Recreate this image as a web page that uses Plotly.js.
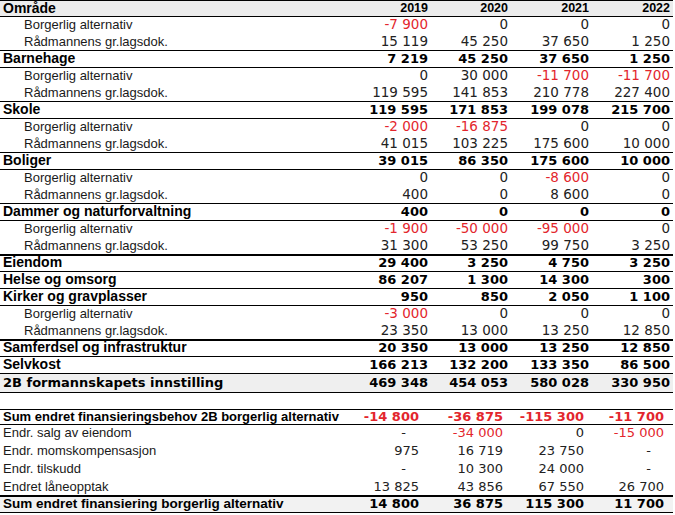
<!DOCTYPE html>
<html>
<head>
<meta charset="utf-8">
<script src="https://cdn.plot.ly/plotly-3.0.1.min.js"></script>
<style>html,body{margin:0;padding:0;background:#fff;}#chart{width:675px;height:515px;}</style>
</head>
<body>
<div id="chart"></div>
<script>
// ---------- DATA ----------
const headerLabel = "Område";
const years = ["2019", "2020", "2021", "2022"];
const rowLabels = [
  "Borgerlig alternativ", "Rådmannens gr.lagsdok.", "Barnehage",
  "Borgerlig alternativ", "Rådmannens gr.lagsdok.", "Skole",
  "Borgerlig alternativ", "Rådmannens gr.lagsdok.", "Boliger",
  "Borgerlig alternativ", "Rådmannens gr.lagsdok.", "Dammer og naturforvaltning",
  "Borgerlig alternativ", "Rådmannens gr.lagsdok.",
  "Eiendom", "Helse og omsorg", "Kirker og gravplasser",
  "Borgerlig alternativ", "Rådmannens gr.lagsdok.",
  "Samferdsel og infrastruktur", "Selvkost", "2B formannskapets innstilling",
  "",
  "Sum endret finansieringsbehov 2B borgerlig alternativ",
  "Endr. salg av eiendom", "Endr. momskompensasjon", "Endr. tilskudd", "Endret låneopptak",
  "Sum endret finansiering borgerlig alternativ"
];
const rowKinds = [
  "sub", "sub", "group",
  "sub", "sub", "group",
  "sub", "sub", "group",
  "sub", "sub", "group",
  "sub", "sub",
  "group", "group", "group",
  "sub", "sub",
  "group", "group", "total",
  "blank",
  "sumred", "plain", "plain", "plain", "plain", "sum"
];
// null = "-" (no value); blank row is skipped
const v2019 = [-7900, 15119, 7219, 0, 119595, 119595, -2000, 41015, 39015, 0, 400, 400, -1900, 31300, 29400, 86207, 950, -3000, 23350, 20350, 166213, 469348, null, -14800, null, 975, null, 13825, 14800];
const v2020 = [0, 45250, 45250, 30000, 141853, 171853, -16875, 103225, 86350, 0, 0, 0, -50000, 53250, 3250, 1300, 850, 0, 13000, 13000, 132200, 454053, null, -36875, -34000, 16719, 10300, 43856, 36875];
const v2021 = [0, 37650, 37650, -11700, 210778, 199078, 0, 175600, 175600, -8600, 8600, 0, -95000, 99750, 4750, 14300, 2050, 0, 13250, 13250, 133350, 580028, null, -115300, 0, 23750, 24000, 67550, 115300];
const v2022 = [0, 1250, 1250, -11700, 227400, 215700, 0, 10000, 10000, 0, 0, 0, 0, 3250, 3250, 300, 1100, 0, 12850, 12850, 86500, 330950, null, -11700, -15000, null, null, 26700, 11700];
const seriesByYear = [v2019, v2020, v2021, v2022];

// ---------- STYLE / LAYOUT ----------
const W = 675, H = 515;
const headerH = 17;
const kindHeight = {sub: 17, group: 17, total: 19, blank: 17, sumred: 15, plain: 18, sum: 17};
const plainHeights = [18, 18, 18, 17];
const tableRight = 673;
const colRightTop = [428, 508, 589, 670];
const colRightBottom = [419, 503, 584, 664];
const RED = "#e3262d";
const NUMCOL = "#222";
const LBL = "Liberation Sans, Arial, sans-serif";
const NUM = "DejaVu Sans, Verdana, sans-serif";

// row boundaries
const tops = [], bots = [];
let yy = headerH, plainIdx = 0;
rowKinds.forEach((k, i) => {
  let h = kindHeight[k];
  if (k === "plain") { h = plainHeights[plainIdx++]; }
  tops.push(yy); yy += h; bots.push(yy);
});
const mid = i => (tops[i] + bots[i]) / 2;
const blankIdx = rowKinds.indexOf("blank");

function fmt(v) {
  if (v === null) return "-\u2002\u2002";
  const s = Math.abs(v).toString().replace(/\B(?=(\d{3})+(?!\d))/g, " ");
  return (v < 0 ? "-" : "") + s;
}

const traces = [];
function addText(xs, ys, texts, pos, family, size, colors, weight) {
  if (!xs.length) return;
  traces.push({
    type: "scatter", mode: "text", x: xs, y: ys, text: texts,
    textposition: pos, hoverinfo: "skip", showlegend: false, cliponaxis: false,
    textfont: {family: family, size: size, color: colors, weight: weight}
  });
}

// header
addText([3], [headerH / 2 + 0.5], [headerLabel], "middle right", LBL, 14, "#000", 700);
addText(colRightTop, years.map(() => headerH / 2 + 0.5), years, "middle left", LBL, 12.5, "#000", 700);

// labels by style
const labelStyles = {
  sub:    {x: 24, fam: LBL, size: 13,   w: 400, c: "#1a1a1a"},
  group:  {x: 3,  fam: LBL, size: 14,   w: 700, c: "#000"},
  total:  {x: 3,  fam: NUM, size: 13,   w: 700, c: "#000"},
  sumred: {x: 3,  fam: LBL, size: 13,   w: 700, c: "#000"},
  plain:  {x: 3,  fam: LBL, size: 13,   w: 400, c: "#1a1a1a"},
  sum:    {x: 3,  fam: LBL, size: 13.5, w: 700, c: "#000"}
};
Object.keys(labelStyles).forEach(k => {
  const st = labelStyles[k];
  const xs = [], ys = [], tx = [];
  rowKinds.forEach((kk, i) => { if (kk === k) { xs.push(st.x); ys.push(mid(i)); tx.push(rowLabels[i]); } });
  addText(xs, ys, tx, "middle right", st.fam, st.size, st.c, st.w);
});

// numbers: top regular, top bold, bottom regular, bottom bold
const boldKinds = {group: true, total: true, sumred: true, sum: true};
[false, true].forEach(bottom => {
  [false, true].forEach(bold => {
    const xs = [], ys = [], tx = [], cs = [];
    rowKinds.forEach((k, i) => {
      if (k === "blank") return;
      if (!!boldKinds[k] !== bold) return;
      if ((i > blankIdx) !== bottom) return;
      seriesByYear.forEach((arr, j) => {
        const v = arr[i];
        xs.push(bottom ? colRightBottom[j] : colRightTop[j]);
        ys.push(mid(i));
        tx.push(fmt(v));
        cs.push(v !== null && v < 0 ? RED : (bold ? "#000" : NUMCOL));
      });
    });
    const size = (!bottom && !bold) ? 13.5 : 13;
    addText(xs, ys, tx, "middle left", NUM, size, cs, bold ? 700 : 400);
  });
});

// shapes: fills and borders
const shapes = [];
function rect(y0, y1, color) {
  shapes.push({type: "rect", xref: "x", yref: "y", x0: 0, x1: tableRight, y0: y0, y1: y1, fillcolor: color, line: {width: 0}, layer: "below"});
}
function hline(y, w) {
  const off = w === 1 ? 0.5 : 0;
  shapes.push({type: "line", xref: "x", yref: "y", x0: 0, x1: tableRight, y0: y + off, y1: y + off, line: {color: "#000", width: w}});
}
rect(0, headerH, "#ececec");
rowKinds.forEach((k, i) => {
  if (k === "total") rect(tops[i], bots[i], "#efefef");
  if (k === "sum") rect(tops[i], bots[i], "#f2f2f2");
});
hline(0, 1);
hline(headerH - 1, 1);
rowKinds.forEach((k, i) => {
  const prev = rowKinds[i - 1];
  if (i === 0) return;
  if (k === "group" || k === "total" || k === "sumred" || (k === "sub" && prev === "group") || (k === "plain" && prev === "sumred") || (k === "blank")) {
    const thick = (k === "group" && prev === "sub" && rowKinds[i + 1] === "group");
    hline(tops[i] - (thick ? 0 : 1), thick ? 2 : 1);
  }
  if (k === "sum") { hline(tops[i], 2); hline(bots[i] - 1, 1); }
});

const layout = {
  width: W, height: H,
  margin: {l: 0, r: 0, t: 0, b: 0},
  paper_bgcolor: "#fff", plot_bgcolor: "#fff",
  xaxis: {range: [0, W], visible: false, fixedrange: true},
  yaxis: {range: [H, 0], visible: false, fixedrange: true},
  shapes: shapes,
  showlegend: false
};
Plotly.newPlot("chart", traces, layout, {displayModeBar: false, staticPlot: true});
</script>
</body>
</html>
